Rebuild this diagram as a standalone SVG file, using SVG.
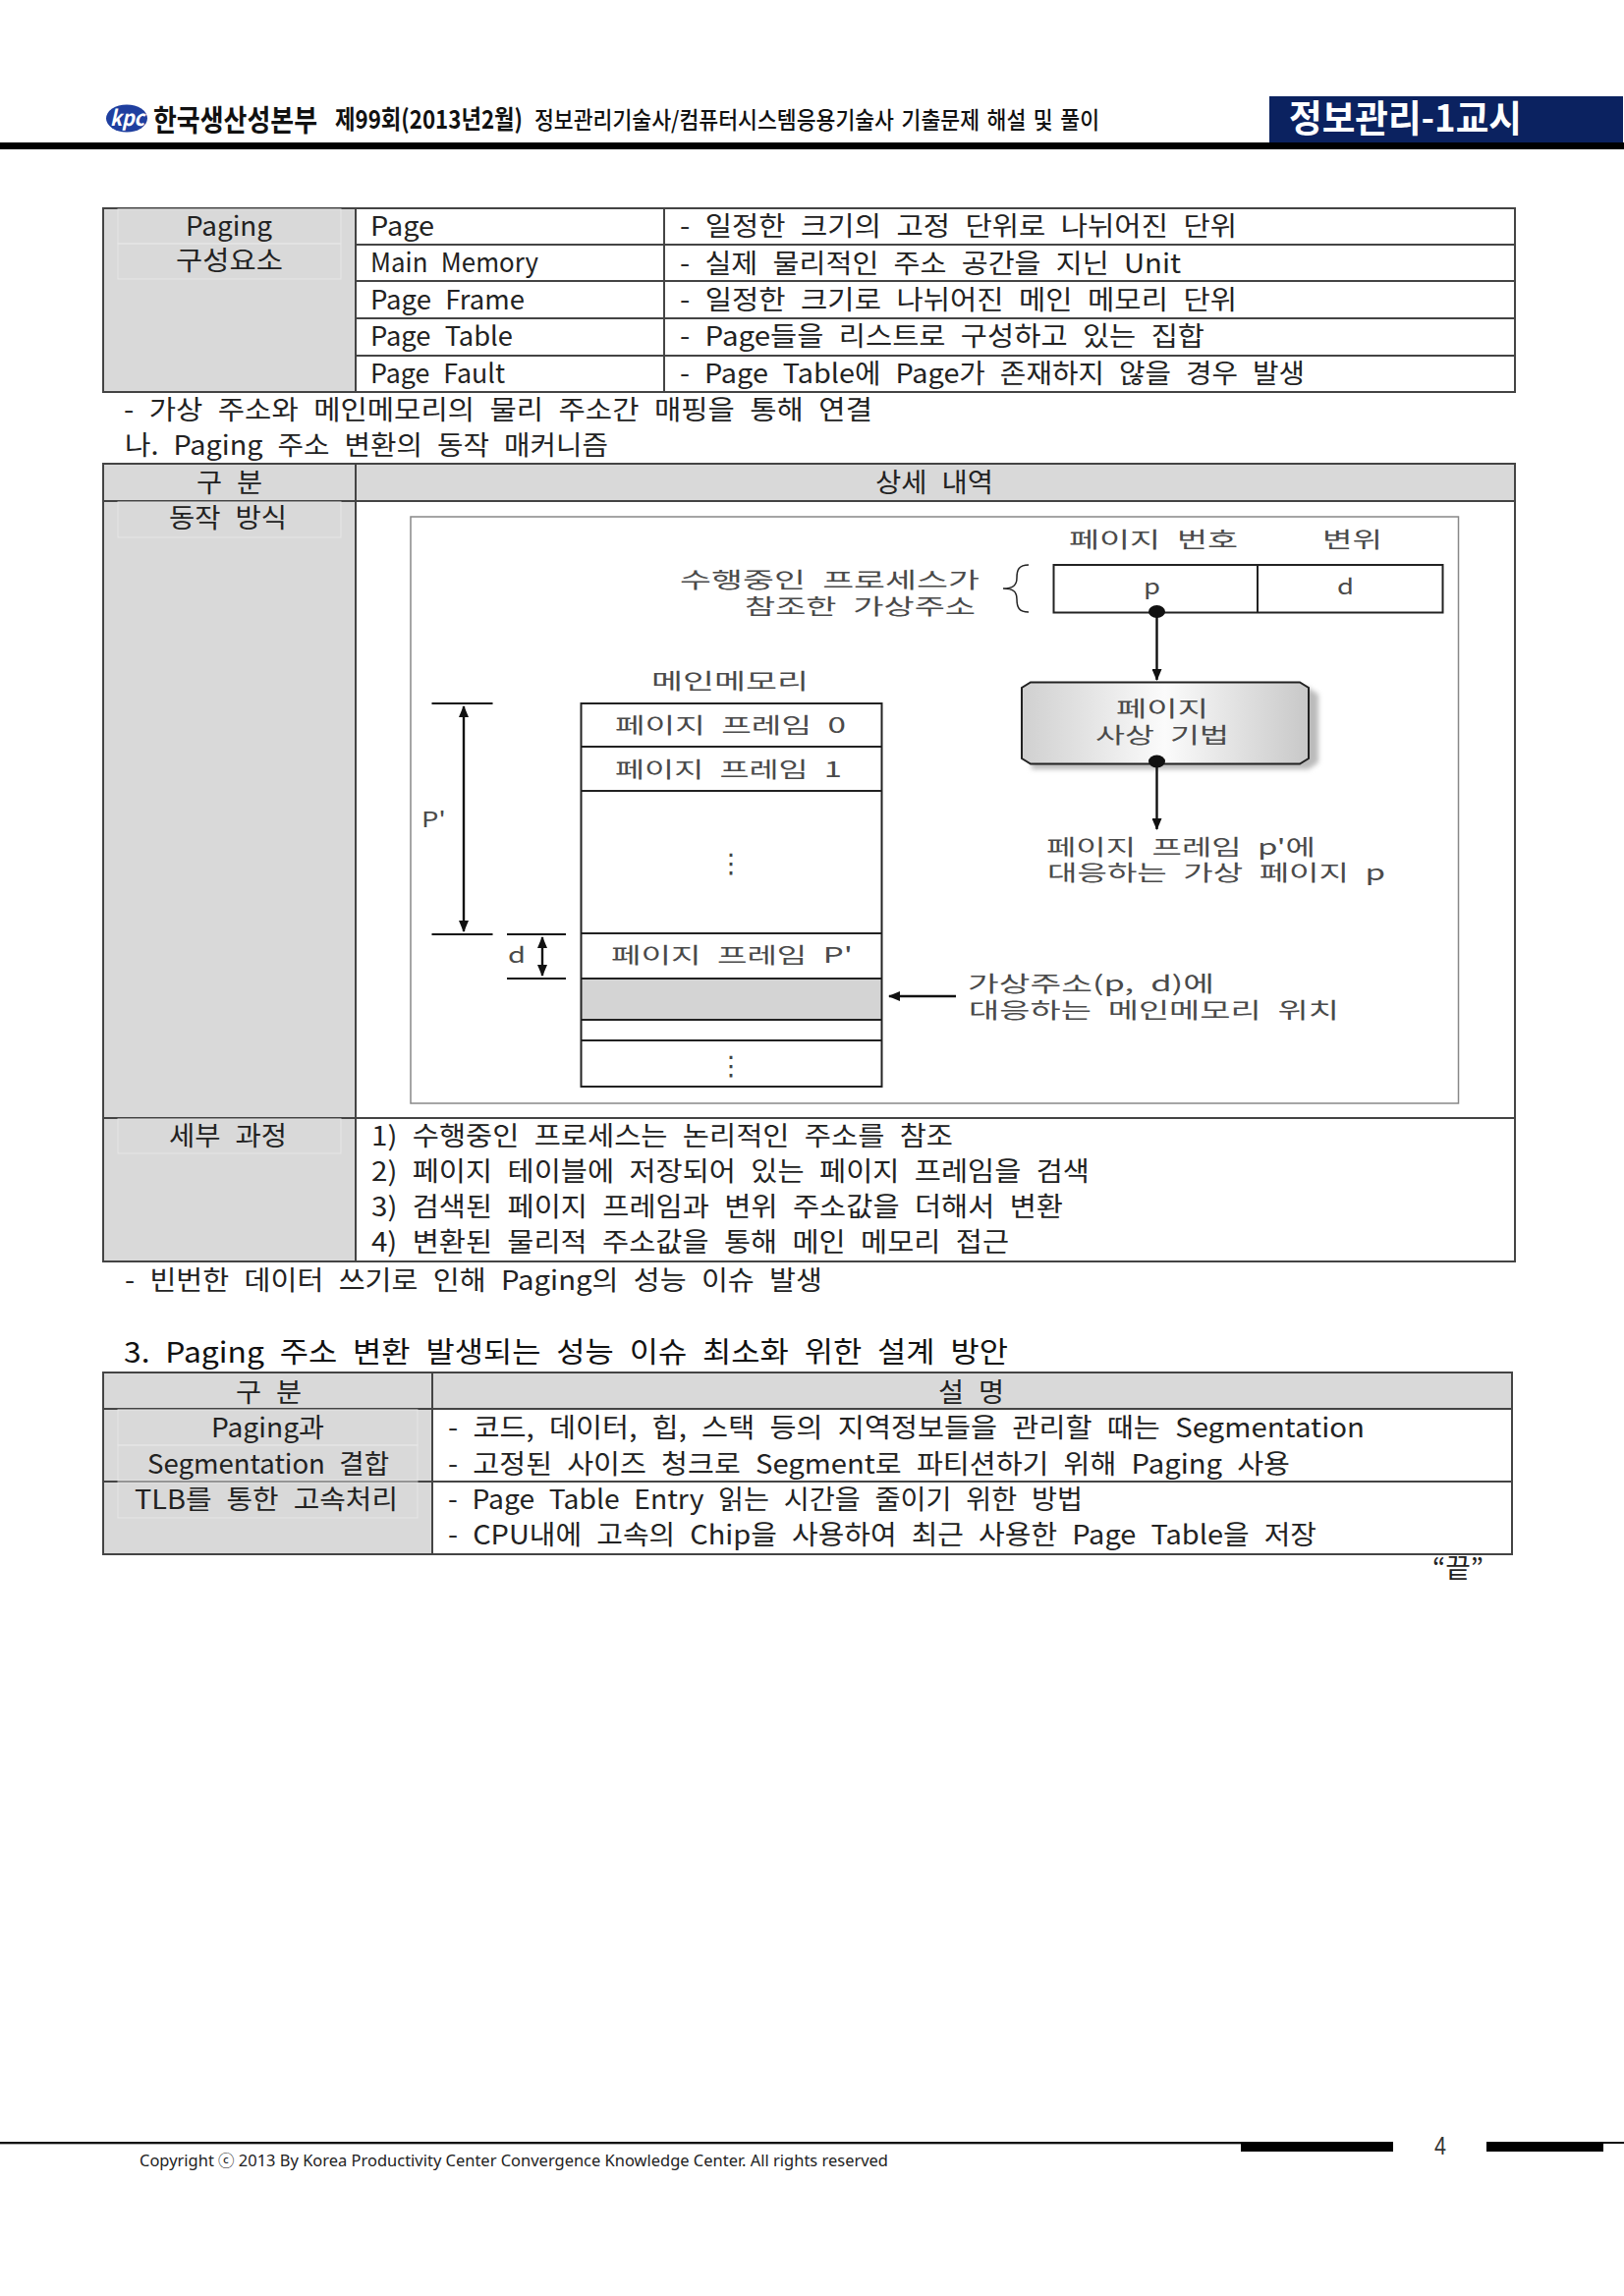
<svg xmlns="http://www.w3.org/2000/svg" width="1653" height="2337" viewBox="0 0 1653 2337">
<style>
text{font-family:"Noto Sans CJK KR","Noto Sans",sans-serif;fill:#222;font-size:27px;word-spacing:8px}
.hd{font-weight:700;fill:#111;word-spacing:2px}
.d{font-size:22px;fill:#4a4a4a;word-spacing:6px}
.cell{fill:#fff;stroke:#444;stroke-width:2}
.grey{fill:#d9d9d9;stroke:#444;stroke-width:2}
.line{stroke:#444;stroke-width:2;fill:none}
.faint{fill:none;stroke:#e6e6e6;stroke-width:1}
.draw{stroke:#222;stroke-width:2;fill:none}
.ln{stroke:#111;stroke-width:2;fill:none}
.conn{stroke:#111;stroke-width:2.4;fill:none}
.dots{font-family:"DejaVu Sans",sans-serif;font-size:27px;fill:#444}
</style>
<defs>
<marker id="ah" viewBox="0 0 12 10" refX="11" refY="5" markerWidth="12" markerHeight="10" markerUnits="userSpaceOnUse" orient="auto-start-reverse"><path d="M0 0L12 5L0 10Z" fill="#111"/></marker>
<linearGradient id="grad" x1="0" x2="1" y1="0" y2="0"><stop offset="0" stop-color="#d0d0d0"/><stop offset=".5" stop-color="#fbfbfb"/><stop offset="1" stop-color="#c8c8c8"/></linearGradient>
<filter id="blur" x="-10%" y="-10%" width="120%" height="120%"><feGaussianBlur stdDeviation="2.500"/></filter>
</defs>
<rect width="1653" height="2337" fill="#fff"/>

<g id="header">
<ellipse cx="129" cy="120.500" rx="21" ry="14" fill="#1f3f9f"/>
<text x="112" y="128" textLength="35" lengthAdjust="spacingAndGlyphs" style="font-size:22px;font-style:italic;font-weight:700;fill:#fff">kpc</text>
<text class="hd" x="156" y="133" textLength="167" lengthAdjust="spacingAndGlyphs" style="font-size:30px">한국생산성본부</text>
<text class="hd" x="341" y="131" textLength="191" lengthAdjust="spacingAndGlyphs" style="font-size:26px">제99회(2013년2월)</text>
<text x="544" y="131" textLength="575" lengthAdjust="spacingAndGlyphs" style="font-size:24px;font-weight:500;fill:#111;word-spacing:3px">정보관리기술사/컴퓨터시스템응용기술사 기출문제 해설 및 풀이</text>
<rect x="1292" y="98" width="360" height="47" fill="#0b2260"/>
<text x="1312" y="134" textLength="237" lengthAdjust="spacingAndGlyphs" style="font-size:38px;font-weight:700;fill:#fff;word-spacing:0">정보관리-1교시</text>
<rect x="0" y="145" width="1653" height="7" fill="#000"/>
</g>

<g id="table-components">
<rect class="grey" x="105" y="212" width="257" height="187"/>
<rect class="faint" x="120" y="213" width="227" height="35"/><rect class="faint" x="120" y="248" width="227" height="36"/>
<rect class="cell" x="362" y="212" width="314" height="37"/><rect class="cell" x="676" y="212" width="866" height="37"/>
<rect class="cell" x="362" y="249" width="314" height="37"/><rect class="cell" x="676" y="249" width="866" height="37"/>
<rect class="cell" x="362" y="286" width="314" height="38"/><rect class="cell" x="676" y="286" width="866" height="38"/>
<rect class="cell" x="362" y="324" width="314" height="38"/><rect class="cell" x="676" y="324" width="866" height="38"/>
<rect class="cell" x="362" y="362" width="314" height="37"/><rect class="cell" x="676" y="362" width="866" height="37"/>
<text x="189" y="240" textLength="88" lengthAdjust="spacingAndGlyphs">Paging</text>
<text x="179" y="275" textLength="109" lengthAdjust="spacingAndGlyphs">구성요소</text>
<text x="377" y="240" textLength="65" lengthAdjust="spacingAndGlyphs">Page</text>
<text x="377" y="277" textLength="171" lengthAdjust="spacingAndGlyphs">Main Memory</text>
<text x="377" y="315" textLength="157" lengthAdjust="spacingAndGlyphs">Page Frame</text>
<text x="377" y="352" textLength="145" lengthAdjust="spacingAndGlyphs">Page Table</text>
<text x="377" y="390" textLength="137" lengthAdjust="spacingAndGlyphs">Page Fault</text>
<text x="692" y="240" textLength="567" lengthAdjust="spacingAndGlyphs">- 일정한 크기의 고정 단위로 나뉘어진 단위</text>
<text x="692" y="278" textLength="510" lengthAdjust="spacingAndGlyphs">- 실제 물리적인 주소 공간을 지닌 Unit</text>
<text x="692" y="315" textLength="567" lengthAdjust="spacingAndGlyphs">- 일정한 크기로 나뉘어진 메인 메모리 단위</text>
<text x="692" y="352" textLength="534" lengthAdjust="spacingAndGlyphs">- Page들을 리스트로 구성하고 있는 집합</text>
<text x="692" y="390" textLength="636" lengthAdjust="spacingAndGlyphs">- Page Table에 Page가 존재하지 않을 경우 발생</text>
</g>

<g id="body-text-1">
<text x="126" y="427" textLength="762" lengthAdjust="spacingAndGlyphs">- 가상 주소와 메인메모리의 물리 주소간 매핑을 통해 연결</text>
<text x="127" y="463" textLength="492" lengthAdjust="spacingAndGlyphs">나. Paging 주소 변환의 동작 매커니즘</text>
</g>

<g id="table-mechanism">
<rect class="grey" x="105" y="472" width="257" height="38"/>
<rect class="grey" x="362" y="472" width="1180" height="38"/>
<rect class="grey" x="105" y="510" width="257" height="628"/>
<rect class="cell" x="362" y="510" width="1180" height="628"/>
<rect class="grey" x="105" y="1138" width="257" height="146"/>
<rect class="cell" x="362" y="1138" width="1180" height="146"/>
<rect class="faint" x="120" y="511" width="227" height="36"/><rect class="faint" x="120" y="1139" width="227" height="35"/>
<text x="200" y="501" textLength="67" lengthAdjust="spacingAndGlyphs">구 분</text>
<text x="891" y="501" textLength="120" lengthAdjust="spacingAndGlyphs">상세 내역</text>
<text x="172" y="537" textLength="120" lengthAdjust="spacingAndGlyphs">동작 방식</text>
<text x="172" y="1166" textLength="120" lengthAdjust="spacingAndGlyphs">세부 과정</text>
<text x="378" y="1166" textLength="592" lengthAdjust="spacingAndGlyphs">1) 수행중인 프로세스는 논리적인 주소를 참조</text>
<text x="378" y="1202" textLength="731" lengthAdjust="spacingAndGlyphs">2) 페이지 테이블에 저장되어 있는 페이지 프레임을 검색</text>
<text x="378" y="1238" textLength="704" lengthAdjust="spacingAndGlyphs">3) 검색된 페이지 프레임과 변위 주소값을 더해서 변환</text>
<text x="378" y="1274" textLength="649" lengthAdjust="spacingAndGlyphs">4) 변환된 물리적 주소값을 통해 메인 메모리 접근</text>
</g>

<rect id="figure-frame" x="418" y="526" width="1066.500" height="597" fill="#fff" stroke="#888" stroke-width="1.500"/>

<g id="virtual-address">
<rect class="draw" x="1072.500" y="575" width="396" height="48.500"/>
<line class="draw" x1="1280" y1="575" x2="1280" y2="623"/>
<text class="d" x="1164" y="605" textLength="17" lengthAdjust="spacingAndGlyphs">p</text>
<text class="d" x="1361" y="605" textLength="17" lengthAdjust="spacingAndGlyphs">d</text>
<text class="d" x="1088" y="557" textLength="172" lengthAdjust="spacingAndGlyphs">페이지 번호</text>
<text class="d" x="1346" y="557" textLength="61" lengthAdjust="spacingAndGlyphs">변위</text>
<text class="d" x="692" y="598" textLength="305" lengthAdjust="spacingAndGlyphs">수행중인 프로세스가</text>
<text class="d" x="758" y="625" textLength="235" lengthAdjust="spacingAndGlyphs">참조한 가상주소</text>
<path d="M1047 575C1037 575 1035 580 1035 588C1035 596 1031 599 1021 599C1031 599 1035 602 1035 610C1035 618 1037 623 1047 623" fill="none" stroke="#222" stroke-width="1.500"/>
</g>

<g id="mapping-technique">
<path d="M1050 700H1332L1342 707V776L1332 783H1050Z" fill="#bbb" filter="url(#blur)"/>
<path d="M1049 694.500H1323L1332 700V772L1323 777.500H1049L1040 772V700Z" fill="url(#grad)" stroke="#222" stroke-width="2"/>
<text class="d" x="1136" y="729" textLength="94" lengthAdjust="spacingAndGlyphs">페이지</text>
<text class="d" x="1115" y="756" textLength="136" lengthAdjust="spacingAndGlyphs">사상 기법</text>
</g>

<g id="main-memory">
<rect x="592" y="996" width="305" height="42" fill="#d4d4d4"/>
<rect class="draw" x="591.500" y="716" width="306" height="390"/>
<path class="draw" d="M591.500 760H897.500M591.500 805H897.500M591.500 950H897.500M591.500 996H897.500M591.500 1038H897.500M591.500 1059H897.500"/>
<text class="d" x="663" y="701" textLength="160" lengthAdjust="spacingAndGlyphs">메인메모리</text>
<text class="d" x="626" y="746" textLength="235" lengthAdjust="spacingAndGlyphs">페이지 프레임 0</text>
<text class="d" x="626" y="791" textLength="231" lengthAdjust="spacingAndGlyphs">페이지 프레임 1</text>
<text class="dots" x="744" y="888" text-anchor="middle">⋮</text>
<text class="d" x="622" y="980" textLength="246" lengthAdjust="spacingAndGlyphs">페이지 프레임 P'</text>
<text class="dots" x="744" y="1094" text-anchor="middle">⋮</text>
</g>

<g id="labels">
<text class="d" x="429" y="842" textLength="25" lengthAdjust="spacingAndGlyphs">P'</text>
<text class="d" x="517" y="980" textLength="18" lengthAdjust="spacingAndGlyphs">d</text>
<text class="d" x="1065" y="870" textLength="274" lengthAdjust="spacingAndGlyphs">페이지 프레임 p'에</text>
<text class="d" x="1066" y="896" textLength="344" lengthAdjust="spacingAndGlyphs">대응하는 가상 페이지 p</text>
<text class="d" x="985" y="1009" textLength="251" lengthAdjust="spacingAndGlyphs">가상주소(p, d)에</text>
<text class="d" x="986" y="1036" textLength="377" lengthAdjust="spacingAndGlyphs">대응하는 메인메모리 위치</text>
</g>

<g id="connectors">
<ellipse cx="1177.500" cy="622.500" rx="8.500" ry="6.500" fill="#111"/>
<line class="conn" x1="1177.500" y1="623" x2="1177.500" y2="692" marker-end="url(#ah)"/>
<ellipse cx="1177.500" cy="775" rx="8.500" ry="6.500" fill="#111"/>
<line class="conn" x1="1177.500" y1="775" x2="1177.500" y2="844" marker-end="url(#ah)"/>
<path class="ln" d="M439.500 716H501.500M439.500 951H501.500M516 951H576M516 996H576"/>
<line class="conn" x1="472" y1="719" x2="472" y2="948" marker-start="url(#ah)" marker-end="url(#ah)"/>
<line class="conn" x1="552" y1="954" x2="552" y2="993" marker-start="url(#ah)" marker-end="url(#ah)"/>
<line class="conn" x1="973" y1="1014" x2="905" y2="1014" marker-end="url(#ah)"/>
</g>

<g id="body-text-2">
<text x="127" y="1313" textLength="710" lengthAdjust="spacingAndGlyphs">- 빈번한 데이터 쓰기로 인해 Paging의 성능 이슈 발생</text>
<text x="126" y="1387" textLength="900" lengthAdjust="spacingAndGlyphs" style="font-size:29px;fill:#111">3. Paging 주소 변환 발생되는 성능 이슈 최소화 위한 설계 방안</text>
</g>

<g id="table-design">
<rect class="grey" x="105" y="1397" width="335" height="37"/>
<rect class="grey" x="440" y="1397" width="1099" height="37"/>
<rect class="grey" x="105" y="1434" width="335" height="74"/>
<rect class="cell" x="440" y="1434" width="1099" height="74"/>
<rect class="grey" x="105" y="1508" width="335" height="74"/>
<rect class="cell" x="440" y="1508" width="1099" height="74"/>
<rect class="faint" x="120" y="1435" width="305" height="36"/><rect class="faint" x="120" y="1471" width="305" height="36"/><rect class="faint" x="120" y="1509" width="305" height="36"/>
<text x="240" y="1427" textLength="67" lengthAdjust="spacingAndGlyphs">구 분</text>
<text x="955" y="1427" textLength="67" lengthAdjust="spacingAndGlyphs">설 명</text>
<text x="215" y="1463" textLength="115" lengthAdjust="spacingAndGlyphs">Paging과</text>
<text x="150" y="1500" textLength="246" lengthAdjust="spacingAndGlyphs">Segmentation 결합</text>
<text x="137" y="1536" textLength="268" lengthAdjust="spacingAndGlyphs">TLB를 통한 고속처리</text>
<text x="456" y="1463" textLength="933" lengthAdjust="spacingAndGlyphs">- 코드, 데이터, 힙, 스택 등의 지역정보들을 관리할 때는 Segmentation</text>
<text x="456" y="1500" textLength="857" lengthAdjust="spacingAndGlyphs">- 고정된 사이즈 청크로 Segment로 파티션하기 위해 Paging 사용</text>
<text x="456" y="1536" textLength="646" lengthAdjust="spacingAndGlyphs">- Page Table Entry 읽는 시간을 줄이기 위한 방법</text>
<text x="456" y="1572" textLength="884" lengthAdjust="spacingAndGlyphs">- CPU내에 고속의 Chip을 사용하여 최근 사용한 Page Table을 저장</text>
<text x="1458" y="1606" textLength="52" lengthAdjust="spacingAndGlyphs">“끝”</text>
</g>

<g id="footer">
<rect x="0" y="2180" width="1263" height="2" fill="#111"/>
<rect x="0" y="2182" width="1263" height="1" fill="#aaa"/>
<rect x="1263" y="2180" width="155" height="10" fill="#000"/>
<rect x="1513" y="2180" width="119" height="10" fill="#000"/>
<rect x="1632" y="2180" width="21" height="2" fill="#111"/>
<text x="1460" y="2193" textLength="12" lengthAdjust="spacingAndGlyphs" style="font-size:25px;font-family:'Liberation Sans',sans-serif;fill:#333">4</text>
<text x="142" y="2205" textLength="762" lengthAdjust="spacingAndGlyphs" style="font-size:16px;font-family:'Noto Sans','Noto Sans CJK KR',sans-serif;word-spacing:0">Copyright ⓒ 2013 By Korea Productivity Center Convergence Knowledge Center. All rights reserved</text>
</g>
</svg>
